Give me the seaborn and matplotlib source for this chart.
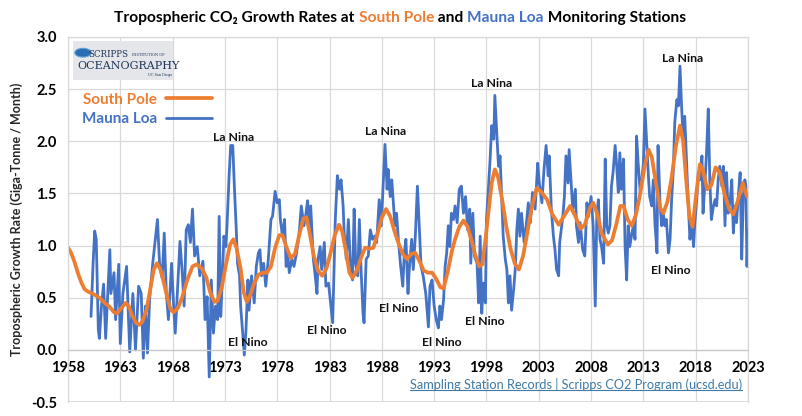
import numpy as np
import pandas as pd
import matplotlib
matplotlib.use("Agg")
import matplotlib.pyplot as plt
import seaborn as sns
from matplotlib.patches import Rectangle, Circle
from matplotlib.lines import Line2D
from matplotlib.ticker import FormatStrFormatter

# ---------------- data ----------------
ml_year = [1960.2, 1960.4, 1960.55, 1960.7, 1960.9, 1961.0, 1961.2, 1961.4, 1961.6, 1961.8,
           1962.0, 1962.1, 1962.4, 1962.55, 1962.85, 1963.0, 1963.25, 1963.6, 1963.9, 1964.2,
           1964.45, 1964.75, 1965.0, 1965.2, 1965.4, 1965.6, 1965.8, 1966.1, 1966.35, 1966.55,
           1966.75, 1967.0, 1967.2, 1967.4, 1967.6, 1967.9, 1968.1, 1968.25, 1968.45, 1968.7,
           1968.9, 1969.1, 1969.3, 1969.5, 1969.7, 1969.9, 1970.1, 1970.35, 1970.6, 1970.9,
           1971.1, 1971.3, 1971.5, 1971.7, 1971.9, 1972.1, 1972.3, 1972.45, 1972.6, 1972.75,
           1972.9, 1973.1, 1973.2, 1973.4, 1973.55, 1973.75, 1973.9, 1974.1, 1974.2, 1974.4,
           1974.5, 1974.7, 1974.85, 1975.0, 1975.2, 1975.3, 1975.55, 1975.8, 1976.0, 1976.2,
           1976.35, 1976.5, 1976.7, 1976.9, 1977.15, 1977.4, 1977.55, 1977.8, 1978.0, 1978.2,
           1978.3, 1978.5, 1978.7, 1978.85, 1979.0, 1979.15, 1979.4, 1979.6, 1979.85, 1980.1,
           1980.3, 1980.55, 1980.75, 1980.9, 1981.1, 1981.2, 1981.45, 1981.6, 1981.8, 1981.9,
           1982.1, 1982.25, 1982.5, 1982.65, 1982.9, 1983.1, 1983.3, 1983.55, 1983.75, 1983.95,
           1984.1, 1984.3, 1984.4, 1984.6, 1984.8, 1985.0, 1985.2, 1985.35, 1985.5, 1985.7,
           1985.85, 1986.0, 1986.2, 1986.3, 1986.5, 1986.7, 1986.9, 1987.1, 1987.3, 1987.5,
           1987.75, 1987.95, 1988.15, 1988.3, 1988.5, 1988.6, 1988.8, 1988.95, 1989.1, 1989.25,
           1989.4, 1989.6, 1989.8, 1990.0, 1990.15, 1990.3, 1990.5, 1990.6, 1990.85, 1991.0,
           1991.2, 1991.4, 1991.6, 1991.75, 1991.95, 1992.2, 1992.45, 1992.6, 1992.8, 1993.0,
           1993.2, 1993.4, 1993.55, 1993.7, 1993.9, 1994.05, 1994.2, 1994.35, 1994.5, 1994.65,
           1994.85, 1995.0, 1995.2, 1995.4, 1995.6, 1995.8, 1996.0, 1996.2, 1996.4, 1996.5,
           1996.7, 1996.85, 1997.1, 1997.25, 1997.4, 1997.55, 1997.7, 1997.9, 1998.0, 1998.2,
           1998.35, 1998.5, 1998.7, 1998.8, 1999.0, 1999.15, 1999.3, 1999.45, 1999.6, 1999.8,
           1999.95, 2000.1, 2000.25, 2000.4, 2000.6, 2000.75, 2000.9, 2001.05, 2001.2, 2001.35,
           2001.6, 2001.8, 2002.0, 2002.2, 2002.4, 2002.65, 2002.9, 2003.05, 2003.3, 2003.5,
           2003.7, 2003.9, 2004.0, 2004.2, 2004.4, 2004.55, 2004.7, 2004.9, 2005.0, 2005.3,
           2005.45, 2005.6, 2005.8, 2005.9, 2006.1, 2006.25, 2006.5, 2006.6, 2006.8, 2006.95,
           2007.2, 2007.4, 2007.6, 2007.75, 2008.0, 2008.2, 2008.4, 2008.55, 2008.7, 2008.85,
           2009.0, 2009.2, 2009.35, 2009.5, 2009.65, 2009.8, 2009.95, 2010.1, 2010.3, 2010.45,
           2010.6, 2010.75, 2010.9, 2011.1, 2011.25, 2011.4, 2011.55, 2011.7, 2011.9, 2012.05,
           2012.2, 2012.35, 2012.5, 2012.7, 2012.85, 2013.0, 2013.15, 2013.3, 2013.5, 2013.6,
           2013.8, 2013.95, 2014.1, 2014.3, 2014.4, 2014.6, 2014.75, 2014.9, 2015.05, 2015.2,
           2015.4, 2015.55, 2015.7, 2015.85, 2016.0, 2016.2, 2016.35, 2016.5, 2016.65, 2016.8,
           2016.95, 2017.1, 2017.3, 2017.45, 2017.6, 2017.8, 2017.9, 2018.1, 2018.25, 2018.4,
           2018.6, 2018.7, 2018.9, 2019.05, 2019.2, 2019.35, 2019.5, 2019.7, 2019.85, 2020.0,
           2020.15, 2020.3, 2020.5, 2020.65, 2020.8, 2020.95, 2021.1, 2021.3, 2021.45, 2021.6,
           2021.75, 2021.9, 2022.1, 2022.25, 2022.4, 2022.55, 2022.7, 2022.8, 2022.9, 2023.0]
ml_rate = [0.32, 0.83, 1.14, 1.06, 0.19, 0.11, 0.42, 0.63, 0.11, 0.54,
           0.96, 0.54, 0.74, 0.29, 0.82, 0.06, 0.54, 0.80, -0.02, 0.54,
           0.00, 0.61, 0.54, -0.08, 0.42, -0.03, 0.48, 0.83, 1.06, 1.25,
           0.83, 0.69, 1.12, 0.54, 0.29, 0.83, 0.42, 0.16, 0.54, 1.04,
           0.77, 0.42, 1.15, 1.20, 1.03, 1.35, 0.90, 0.99, 0.71, 0.85,
           0.29, 0.51, -0.26, 0.67, 0.16, 0.42, 0.29, 1.28, 0.32, 0.67,
           1.09, 0.99, 1.19, 1.67, 1.96, 1.96, 1.57, 1.12, 0.83, 0.71,
           0.42, 0.16, -0.05, 0.16, 0.67, 0.38, 0.71, 0.45, 0.80, 0.93,
           0.96, 0.71, 0.83, 0.61, 0.87, 1.25, 1.28, 1.52, 1.41, 1.44,
           1.25, 1.09, 1.25, 0.80, 0.93, 0.74, 0.87, 0.80, 0.93, 1.12,
           1.38, 1.19, 1.31, 1.43, 1.15, 1.38, 0.87, 0.74, 0.54, 0.87,
           0.99, 0.77, 1.03, 0.61, 0.64, 0.45, 0.26, 1.25, 1.67, 1.54,
           1.63, 1.38, 1.12, 0.87, 1.25, 0.80, 0.67, 1.35, 0.83, 0.71,
           1.25, 0.80, 0.35, 0.26, 0.87, 0.90, 1.15, 1.06, 1.09, 1.03,
           1.44, 1.19, 1.63, 1.97, 1.54, 1.73, 1.47, 1.63, 1.41, 1.19,
           1.31, 1.03, 0.80, 0.61, 0.93, 1.06, 0.54, 0.74, 1.06, 0.77,
           1.09, 1.57, 1.12, 0.80, 0.71, 0.54, 0.22, 0.61, 0.67, 0.42,
           0.29, 0.21, 0.42, 0.29, 0.48, 0.80, 0.93, 1.19, 0.99, 1.31,
           1.25, 1.38, 1.22, 1.54, 1.57, 1.31, 1.47, 1.15, 1.35, 0.83,
           1.31, 0.90, 0.83, 0.45, 1.09, 0.35, 0.64, 0.45, 1.25, 1.57,
           1.83, 2.15, 2.02, 2.44, 2.05, 1.76, 1.86, 1.47, 1.09, 0.87,
           0.77, 0.45, 0.71, 0.38, 0.58, 0.77, 1.15, 1.35, 1.09, 1.31,
           1.03, 1.19, 1.41, 1.22, 1.51, 1.35, 1.79, 1.60, 1.41, 1.73,
           1.96, 1.67, 1.86, 1.35, 1.09, 0.96, 0.77, 0.71, 1.03, 1.28,
           1.47, 1.86, 1.60, 1.92, 1.60, 1.35, 1.54, 1.19, 1.03, 1.22,
           0.96, 0.90, 1.41, 1.28, 1.47, 1.19, 0.42, 1.31, 1.44, 1.06,
           0.99, 0.83, 1.83, 1.19, 1.12, 1.19, 1.57, 1.70, 1.96, 1.76,
           1.51, 1.89, 1.54, 1.83, 0.99, 0.67, 1.19, 0.99, 1.12, 1.19,
           1.06, 2.05, 1.79, 1.51, 1.63, 1.79, 2.31, 2.02, 1.63, 1.47,
           1.38, 1.63, 1.22, 0.93, 1.96, 1.38, 1.19, 1.31, 1.19, 1.25,
           0.93, 1.06, 1.44, 1.70, 2.18, 2.40, 2.34, 2.72, 2.34, 2.02,
           2.24, 1.86, 1.38, 1.06, 1.25, 0.99, 1.19, 1.44, 1.70, 1.63,
           1.86, 1.31, 1.63, 1.92, 2.31, 1.63, 1.25, 1.38, 1.44, 1.38,
           1.63, 1.76, 1.57, 1.76, 1.19, 1.70, 1.31, 1.44, 1.63, 1.12,
           1.38, 1.22, 1.51, 1.70, 0.87, 1.47, 1.63, 1.57, 0.80, 1.15]

sp_year = [1958.0, 1958.3, 1958.6, 1959.0, 1959.3, 1959.6, 1959.9, 1960.5, 1961.0, 1961.5,
           1962.0, 1962.4, 1962.7, 1963.1, 1963.5, 1963.8, 1964.1, 1964.5, 1964.8, 1965.1,
           1965.5, 1965.9, 1966.2, 1966.5, 1966.8, 1967.1, 1967.5, 1967.8, 1968.1, 1968.5,
           1968.9, 1969.4, 1969.9, 1970.3, 1970.8, 1971.2, 1971.6, 1972.0, 1972.3, 1972.7,
           1973.1, 1973.5, 1973.8, 1974.1, 1974.5, 1974.8, 1975.1, 1975.4, 1975.8, 1976.2,
           1976.6, 1977.0, 1977.4, 1977.8, 1978.2, 1978.5, 1978.9, 1979.3, 1979.7, 1980.1,
           1980.5, 1980.8, 1981.1, 1981.5, 1981.9, 1982.3, 1982.7, 1983.1, 1983.5, 1983.9,
           1984.2, 1984.6, 1984.9, 1985.2, 1985.6, 1986.0, 1986.4, 1986.8, 1987.2, 1987.6,
           1988.0, 1988.4, 1988.8, 1989.2, 1989.6, 1990.0, 1990.4, 1990.8, 1991.2, 1991.6,
           1992.0, 1992.4, 1992.8, 1993.2, 1993.6, 1993.9, 1994.3, 1994.7, 1995.0, 1995.4,
           1995.8, 1996.2, 1996.6, 1996.9, 1997.3, 1997.6, 1997.9, 1998.2, 1998.5, 1998.8,
           1999.1, 1999.5, 1999.9, 2000.3, 2000.7, 2001.1, 2001.5, 2001.9, 2002.3, 2002.8,
           2003.2, 2003.8, 2004.3, 2004.9, 2005.4, 2006.0, 2006.5, 2007.0, 2007.4, 2007.9,
           2008.2, 2008.6, 2009.0, 2009.6, 2010.0, 2010.4, 2010.8, 2011.1, 2011.5, 2011.9,
           2012.3, 2012.7, 2013.1, 2013.5, 2013.8, 2014.2, 2014.6, 2014.9, 2015.3, 2015.7,
           2016.1, 2016.5, 2016.8, 2017.1, 2017.4, 2017.7, 2018.0, 2018.4, 2018.7, 2019.1,
           2019.5, 2019.9, 2020.3, 2020.8, 2021.2, 2021.6, 2022.0, 2022.5, 2022.9]
sp_rate = [0.98, 0.93, 0.85, 0.72, 0.64, 0.58, 0.56, 0.53, 0.50, 0.45,
           0.41, 0.36, 0.35, 0.40, 0.45, 0.42, 0.34, 0.26, 0.24, 0.27,
           0.38, 0.60, 0.77, 0.83, 0.78, 0.67, 0.50, 0.39, 0.36, 0.40,
           0.50, 0.67, 0.80, 0.82, 0.78, 0.70, 0.55, 0.46, 0.47, 0.60,
           0.82, 1.01, 1.06, 0.98, 0.78, 0.55, 0.46, 0.52, 0.64, 0.72,
           0.74, 0.74, 0.80, 0.98, 1.10, 1.10, 0.98, 0.88, 0.92, 1.10,
           1.26, 1.27, 1.12, 0.90, 0.76, 0.71, 0.78, 0.93, 1.10, 1.20,
           1.14, 0.93, 0.74, 0.69, 0.76, 0.88, 0.98, 0.97, 0.98, 1.12,
           1.27, 1.35, 1.28, 1.14, 1.02, 0.92, 0.87, 0.92, 0.93, 0.85,
           0.76, 0.74, 0.74, 0.68, 0.60, 0.59, 0.75, 0.95, 1.06, 1.18,
           1.24, 1.18, 1.04, 0.92, 0.80, 0.82, 1.05, 1.33, 1.60, 1.73,
           1.66, 1.44, 1.18, 0.97, 0.83, 0.77, 0.90, 1.12, 1.35, 1.55,
           1.52, 1.44, 1.30, 1.20, 1.28, 1.38, 1.28, 1.16, 1.20, 1.36,
           1.41, 1.30, 1.12, 1.01, 1.05, 1.20, 1.38, 1.38, 1.25, 1.19,
           1.30, 1.50, 1.75, 1.92, 1.85, 1.60, 1.36, 1.31, 1.42, 1.65,
           1.95, 2.15, 2.00, 1.62, 1.28, 1.18, 1.45, 1.78, 1.72, 1.54,
           1.58, 1.75, 1.70, 1.48, 1.35, 1.30, 1.42, 1.60, 1.47]

tick_years = list(range(1958, 2024, 5))
y_ticks = [-0.5, 0.0, 0.5, 1.0, 1.5, 2.0, 2.5, 3.0]

event_labels = ["La Nina", "El Nino", "El Nino", "La Nina", "El Nino",
                "El Nino", "El Nino", "La Nina", "El Nino", "La Nina"]
event_x = [1973.8, 1975.2, 1982.7, 1988.4, 1989.6, 1993.7, 1997.8, 1998.5, 2015.6, 2016.7]
event_y = [2.04, 0.07, 0.19, 2.09, 0.40, 0.07, 0.27, 2.55, 0.76, 2.79]

BLUE = "#4472C4"
ORANGE = "#ED7D31"
GRID = "#d9d9d9"

# ---------------- figure ----------------
sns.set_theme(style="white")
plt.rcParams["font.family"] = ["Lato", "DejaVu Sans"]

fig = plt.figure(figsize=(8.02, 4.16), dpi=100)
ax = fig.add_axes([68 / 802, 14 / 416, 680 / 802, 365 / 416])

ml_df = pd.DataFrame({"Year": ml_year, "Rate": ml_rate})
sp_df = pd.DataFrame({"Year": sp_year, "Rate": sp_rate})

sns.lineplot(data=ml_df, x="Year", y="Rate", ax=ax, color=BLUE, linewidth=2.0,
             estimator=None, sort=False, label="Mauna Loa")
sns.lineplot(data=sp_df, x="Year", y="Rate", ax=ax, color=ORANGE, linewidth=2.7,
             estimator=None, sort=False, label="South Pole")
for ln in ax.get_lines():
    ln.set_solid_joinstyle("round")
    ln.set_solid_capstyle("round")

ax.set_xlim(1958, 2023)
ax.set_ylim(-0.5, 3.0)
ax.set_xticks(tick_years)
ax.set_yticks(y_ticks)
ax.yaxis.set_major_formatter(FormatStrFormatter("%.1f"))
ax.grid(True, color=GRID, linewidth=0.9)
ax.set_axisbelow(True)
for side in ["left", "right", "top"]:
    ax.spines[side].set_color(GRID)
    ax.spines[side].set_linewidth(0.9)
ax.spines["bottom"].set_position(("data", 0))
ax.spines["bottom"].set_color("#c8c8c8")
ax.spines["bottom"].set_linewidth(0.9)
ax.axhline(-0.5, color=GRID, linewidth=1.2, zorder=0)
ax.tick_params(axis="both", length=0, labelsize=10.5, colors="black")
ax.tick_params(axis="x", pad=8)
ax.tick_params(axis="y", pad=8)
for lbl in ax.get_xticklabels() + ax.get_yticklabels():
    lbl.set_fontweight("bold")
ax.set_xlabel("")
ax.set_ylabel("Tropospheric Growth Rate (Giga-Tonne / Month)", fontsize=9,
              fontweight="bold", labelpad=6)

# legend (South Pole first)
handles, labels = ax.get_legend_handles_labels()
order = [labels.index("South Pole"), labels.index("Mauna Loa")]
leg = ax.legend([handles[i] for i in order], [labels[i] for i in order],
                loc="upper left", bbox_to_anchor=(0.0, 0.885), frameon=False,
                markerfirst=False, handlelength=3.0, handletextpad=0.6,
                labelspacing=0.35, labelcolor="linecolor",
                prop={"weight": "bold", "size": 11})

# event annotations
for lab, xv, yv in zip(event_labels, event_x, event_y):
    ax.text(xv, yv, lab, ha="center", va="center", fontsize=8.8,
            fontweight="bold", color="#111111")

# logo box
ax.add_patch(Rectangle((0.007, 0.882), 0.147, 0.107, transform=ax.transAxes,
                       facecolor="#e4e6ea", edgecolor="none", zorder=3))
ax.add_patch(Circle((0.022, 0.957), 0.012, transform=ax.transAxes,
                    facecolor="#2a6db3", edgecolor="#5fa0d8", linewidth=0.8, zorder=4))
ax.text(0.030, 0.953, "SCRIPPS", transform=ax.transAxes, fontsize=6.2,
        family="DejaVu Serif", color="#1f3557", va="center", zorder=5)
ax.text(0.094, 0.951, "INSTITUTION OF", transform=ax.transAxes, fontsize=2.6,
        family="DejaVu Serif", color="#1f3557", va="center", zorder=5)
ax.text(0.014, 0.920, "OCEANOGRAPHY", transform=ax.transAxes, fontsize=8.0,
        family="DejaVu Serif", color="#1f3557", va="center", zorder=5)
ax.text(0.118, 0.896, "UC San Diego", transform=ax.transAxes, fontsize=2.4,
        family="DejaVu Serif", color="#1f3557", va="center", zorder=5)

# source link text (underlined)
link = ax.text(2006.6, -0.335, "Sampling Station Records | Scripps CO2 Program (ucsd.edu)",
               ha="center", va="center", fontsize=9.2, color="#3f7aa6")

# multicolour title
pieces = ["Tropospheric CO\u2082 Growth Rates at ", "South Pole", " and ",
          "Mauna Loa", " Monitoring Stations"]
colors = ["black", ORANGE, "black", BLUE, "black"]
fig.canvas.draw()
r = fig.canvas.get_renderer()
fs = 13
texts = [fig.text(0, 0, s, fontsize=fs, fontweight="bold", color=c) for s, c in zip(pieces, colors)]
widths = [t.get_window_extent(r).width for t in texts]
total = sum(widths)
scale = 570.0 / total
fs2 = fs * scale
for t in texts:
    t.set_fontsize(fs2)
fig.canvas.draw()
widths = [t.get_window_extent(r).width for t in texts]
total = sum(widths)
x0 = (800 - total) / 2.0
for t, w in zip(texts, widths):
    t.set_position((x0 / 802, 1 - 18 / 416))
    t.set_va("center")
    x0 += w

# underline of link
fig.canvas.draw()
bb = link.get_window_extent(r)
inv = fig.transFigure.inverted()
(xa, ya) = inv.transform((bb.x0, bb.y0 + 1))
(xb, _) = inv.transform((bb.x1, bb.y0 + 1))
fig.add_artist(Line2D([xa, xb], [ya, ya], transform=fig.transFigure,
                      color="#3f7aa6", linewidth=0.8))

fig.savefig("out.png", dpi=100, facecolor="white")
